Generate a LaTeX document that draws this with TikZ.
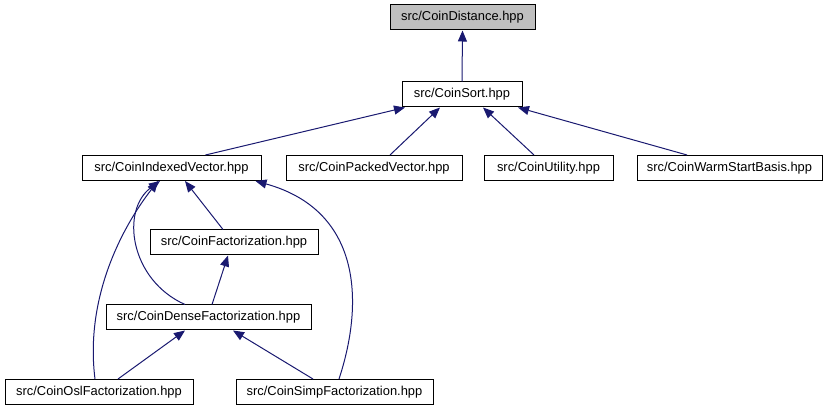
\documentclass[tikz,border=0pt]{standalone}
\usepackage{fontspec}
\setmainfont{Liberation Sans}
\usetikzlibrary{arrows.meta}

\begin{document}
\begin{tikzpicture}[x=1pt,y=-1pt,
  file/.style={draw,line width=1pt,fill=white,inner sep=0pt,minimum height=25pt,
    font=\fontsize{12.9}{15}\selectfont},
  edge/.style={draw=navyline,line width=1pt,-{Triangle[length=11pt,width=9pt]}}]
\definecolor{navyline}{HTML}{191970}
\useasboundingbox (0,0) rectangle (833,411);
% files
\node[file,fill=gray!50,minimum width=145pt](distance) at (462.5,17.5){src/CoinDistance.hpp};
\node[file,minimum width=120pt](sort) at (462,94.5){src/CoinSort.hpp};
\node[file,minimum width=179pt](indexed) at (171.5,168){src/CoinIndexedVector.hpp};
\node[file,minimum width=176pt](packed) at (374,168){src/CoinPackedVector.hpp};
\node[file,minimum width=129pt](utility) at (548.5,168){src/CoinUtility.hpp};
\node[file,minimum width=185pt](warm) at (729.5,168){src/CoinWarmStartBasis.hpp};
\node[file,minimum width=168pt](fact) at (234,242.5){src/CoinFactorization.hpp};
\node[file,minimum width=205pt](dense) at (208.5,317.5){src/CoinDenseFactorization.hpp};
\node[file,minimum width=188pt](osl) at (99,392){src/CoinOslFactorization.hpp};
\node[file,minimum width=197pt](simp) at (334.5,392){src/CoinSimpFactorization.hpp};
% includes
\draw[edge](sort.north)--(distance.south);
\draw[edge]([xshift=34pt]indexed.north)--([xshift=-57pt]sort.south);
\draw[edge]([xshift=16pt]packed.north)--([xshift=-22pt]sort.south);
\draw[edge]([xshift=-14.5pt]utility.north)--([xshift=21pt]sort.south);
\draw[edge]([xshift=-42.5pt]warm.north)--([xshift=56pt]sort.south);
\draw[edge]([xshift=-11pt]fact.north)--([xshift=13.5pt]indexed.south);
\draw[edge]([xshift=-23.5pt]dense.north)..controls(130,280)and(120,210)..([xshift=-11.5pt]indexed.south);
\draw[edge]([xshift=-4pt]osl.north)..controls(85,300)and(120,230)..([xshift=-13.5pt]indexed.south);
\draw[edge]([xshift=4.5pt]simp.north)..controls(365,300)and(360,210)..([xshift=84pt]indexed.south);
\draw[edge]([xshift=3.5pt]dense.north)--([xshift=-6pt]fact.south);
\draw[edge]([xshift=19pt]osl.north)--([xshift=-23.5pt]dense.south);
\draw[edge]([xshift=-21.5pt]simp.north)--([xshift=24.5pt]dense.south);
\end{tikzpicture}
\end{document}
